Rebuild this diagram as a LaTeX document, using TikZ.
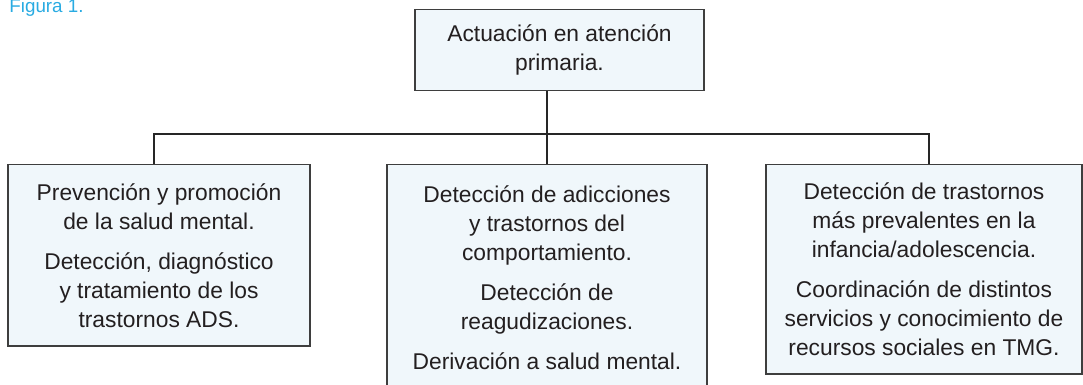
\documentclass[tikz,border=0pt]{standalone}
\usepackage{fontspec}
\setmainfont{Liberation Sans}
\usetikzlibrary{calc, positioning}
\definecolor{cajafondo}{RGB}{240,247,251}
\definecolor{cajaborde}{RGB}{62,62,62}
\definecolor{textogris}{RGB}{35,31,32}
\definecolor{azulfig}{RGB}{41,171,226}

\begin{document}
\begin{tikzpicture}[x=0.5pt, y=-0.5pt,
    caja/.style={draw=cajaborde, line width=0.75pt, fill=cajafondo, text=textogris,
        align=center, inner sep=0pt, anchor=north,
        font=\fontsize{11.4}{14.5}\selectfont},
    rama/.style={draw=black!85, line width=0.55pt}]
    % marco de la figura
    \useasboundingbox (0,0) rectangle (1083,385);

    % --- rotulo ---
    \node[anchor=base west, inner sep=0pt, text=azulfig,
        font=\fontsize{9.4}{11}\selectfont] (figura) at (9,13) {Figura 1.};

    % --- cajas ---
    \node[caja, minimum width=144.5pt, minimum height=40.5pt] (atencion) at (559.5,9)
        {Actuación en atención\\primaria.};
    \node[caja, minimum width=151pt, minimum height=90.5pt] (prevencion) at (159,164)
        {Prevención y promoción\\de la salud mental.\\[5.5pt]
         Detección, diagnóstico\\y tratamiento de los\\trastornos ADS.};
    \node[caja, minimum width=160pt, minimum height=112.5pt] (adicciones) at (547,164)
        {Detección de adicciones\\y trastornos del\\comportamiento.\\[5.5pt]
         Detección de\\reagudizaciones.\\[5.5pt]
         Derivación a salud mental.};
    \node[caja, minimum width=158pt, minimum height=104.5pt] (infancia) at (924,164)
        {Detección de trastornos\\más prevalentes en la\\infancia/adolescencia.\\[5.5pt]
         Coordinación de distintos\\servicios y conocimiento de\\recursos sociales en TMG.};

    % --- ramas ---
    \coordinate (ramaI) at (154,134);
    \coordinate (ramaD) at (929,134);
    \draw[rama] (atencion.south -| adicciones.north) -- (adicciones.north);
    \draw[rama] (ramaI |- prevencion.north) -- (ramaI) -- (ramaD) -- (ramaD |- infancia.north);
\end{tikzpicture}
\end{document}
